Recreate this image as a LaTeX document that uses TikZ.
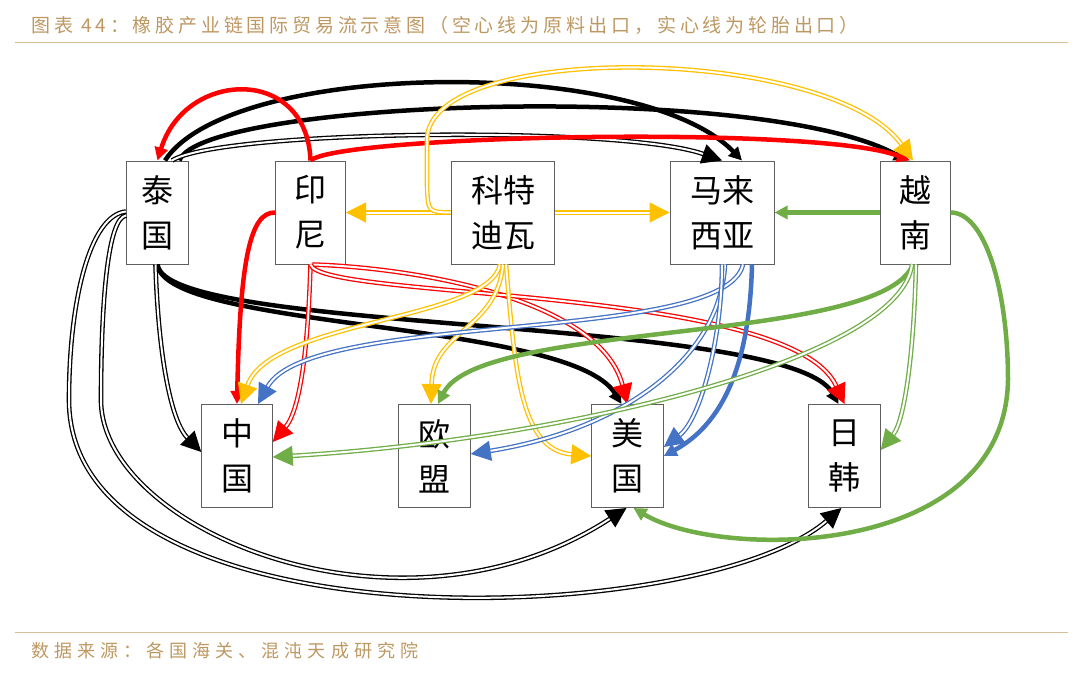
\documentclass[tikz,border=0pt]{standalone}
\usepackage{fontspec}
\newfontfamily\cjk{Noto Sans CJK SC}
\newfontfamily\cjktitle[LetterSpace=20]{Noto Sans CJK SC}
\newfontfamily\cjkfoot[LetterSpace=28]{Noto Sans CJK SC}
\usepackage{tikz}
\usetikzlibrary{arrows.meta}
\usepackage{xcolor}
\definecolor{ColRed}{RGB}{255,0,0}
\definecolor{ColYellow}{RGB}{255,192,0}
\definecolor{ColGreen}{RGB}{112,173,71}
\definecolor{ColBlue}{RGB}{68,114,196}
\definecolor{ColGold}{RGB}{190,152,98}
\definecolor{ColRule}{RGB}{214,192,152}
\definecolor{ColBox}{RGB}{95,95,95}
\tikzstyle{NodeCountry}=[draw=ColBox,line width=1pt,fill=white,align=center,inner sep=0pt,
minimum height=103pt,font=\cjk\fontsize{32}{45}\selectfont]
\tikzstyle{EdgeTyre}=[line width=4.5pt,-{Triangle[length=13pt,width=13pt]}]
\tikzstyle{EdgeRaw}=[line width=1.3pt,double=white,double distance=2pt,
-{Triangle[length=20pt,width=20pt]}]

\begin{document}
\begin{tikzpicture}[x=1pt,y=-1pt]
        \useasboundingbox(0,0)rectangle(1080,673);
        % title and source
        \node[anchor=west,text=ColGold,font=\cjktitle\fontsize{19}{22}\selectfont](Title)at(28,25)
            {图表 44：橡胶产业链国际贸易流示意图（空心线为原料出口，实心线为轮胎出口）};
        \draw[ColRule,line width=1.2pt](15,42.5)--(1068,42.5);
        \draw[ColRule,line width=1.2pt](15,632.3)--(1068,632.3);
        \node[anchor=west,text=ColGold,font=\cjkfoot\fontsize{18}{22}\selectfont](Source)at(28,651)
            {数据来源：各国海关、混沌天成研究院};
        % countries
        \node[NodeCountry,minimum width=62pt](Thai)at(157.5,212.5){泰\\国};
        \node[NodeCountry,minimum width=70pt](Indo)at(310.5,212.5){印\\尼};
        \node[NodeCountry,minimum width=103.5pt](Ivory)at(503,212.5){科特\\迪瓦};
        \node[NodeCountry,minimum width=104pt](Malay)at(722,212.5){马来\\西亚};
        \node[NodeCountry,minimum width=70pt](Viet)at(915,212.5){越\\南};
        \node[NodeCountry,minimum width=70.5pt](China)at(237,456){中\\国};
        \node[NodeCountry,minimum width=71.5pt](EU)at(434.5,456){欧\\盟};
        \node[NodeCountry,minimum width=71.5pt](US)at(627.5,456){美\\国};
        \node[NodeCountry,minimum width=71.5pt](JK)at(844.5,456){日\\韩};
        % Thailand
        \draw[EdgeTyre]([xshift=7.5pt]Thai.north)..controls(230,60)and(640,55)..([xshift=20pt]Malay.north);
        \draw[EdgeTyre]([xshift=22pt]Thai.north)..controls(200,100)and(760,80)..([xshift=-8pt]Viet.north);
        \draw[EdgeTyre](Thai.south)..controls(165,330)and(570,320)..([xshift=-6pt]US.north);
        \draw[EdgeTyre](Thai.south)..controls(165,335)and(790,315)..([xshift=-6pt]JK.north);
        \draw[EdgeRaw]([xshift=14.5pt]Thai.north)..controls(220,130)and(620,125)..(Malay.north);
        \draw[EdgeRaw]([xshift=-2pt]Thai.south)..controls(158,350)and(170,420)..([yshift=4pt]China.west);
        \draw[EdgeRaw]([yshift=-3pt]Thai.west)..controls(108,218)and(101,300)..(101,400)
            ..controls(101,530)and(400,655)..([xshift=-1pt]US.south);
        \draw[EdgeRaw]([yshift=1pt]Thai.west)..controls(90,215)and(69,300)..(69,400)
            ..controls(69,650)and(700,630)..([xshift=-3pt]JK.south);
        % Indonesia
        \draw[EdgeTyre,ColRed](Indo.north)..controls(307,65)and(185,70)..(Thai.north);
        \draw[EdgeTyre,ColRed](Indo.north)..controls(340,135)and(820,125)..([xshift=-5pt]Viet.north);
        \draw[EdgeTyre,ColRed](Indo.west)..controls(250,212)and(240,260)..(China.north);
        \draw[EdgeRaw,ColRed](Indo.south)..controls(308,350)and(300,410)..([yshift=14pt]China.east);
        \draw[EdgeRaw,ColRed]([xshift=2pt]Indo.south)..controls(420,268)and(600,300)..(US.north);
        \draw[EdgeRaw,ColRed](Indo.south)..controls(320,300)and(790,285)..(JK.north);
        % Cote d'Ivoire
        \draw[EdgeRaw,ColYellow](Ivory.west)--(Indo.east);
        \draw[EdgeRaw,ColYellow](Ivory.east)--(Malay.west);
        \draw[EdgeRaw,ColYellow](Ivory.west)..controls(428,212)..(427,185)--(427,140)
            ..controls(427,40)and(830,45)..([xshift=-2pt]Viet.north);
        \draw[EdgeRaw,ColYellow]([xshift=-3pt]Ivory.south)..controls(490,320)and(270,320)..([xshift=4pt]China.north);
        \draw[EdgeRaw,ColYellow](Ivory.south)..controls(497,330)and(433,330)..([xshift=-3.5pt]EU.north);
        \draw[EdgeRaw,ColYellow]([xshift=3pt]Ivory.south)..controls(515,370)and(520,450)..(US.west);
        % Malaysia
        \draw[EdgeRaw,ColBlue]([xshift=21pt]Malay.south)..controls(725,345)and(310,310)..([xshift=21pt]China.north);
        \draw[EdgeRaw,ColBlue]([xshift=3pt]Malay.south)..controls(720,360)and(620,430)..([yshift=2pt]EU.east);
        \draw[EdgeRaw,ColBlue](Malay.south)..controls(722,340)and(700,420)..([yshift=9pt]US.east);
        \draw[EdgeTyre,ColBlue]([xshift=30pt]Malay.south)..controls(750,350)and(730,420)..(US.east);
        % Vietnam
        \draw[EdgeTyre,ColGreen](Viet.west)--(Malay.east);
        \draw[EdgeTyre,ColGreen]([xshift=-2pt]Viet.south)..controls(880,345)and(480,320)..([xshift=3.5pt]EU.north);
        \draw[EdgeTyre,ColGreen](Viet.east)..controls(985,212)and(1008,290)..(1008,380)
            ..controls(1005,560)and(720,560)..([xshift=6pt]US.south);
        \draw[EdgeRaw,ColGreen]([xshift=-3pt]Viet.south)..controls(900,360)and(560,440)..([yshift=-1pt]China.east);
        \draw[EdgeRaw,ColGreen]([xshift=1pt]Viet.south)..controls(914,350)and(905,420)..([yshift=6pt]JK.east);
    \end{tikzpicture}
\end{document}
